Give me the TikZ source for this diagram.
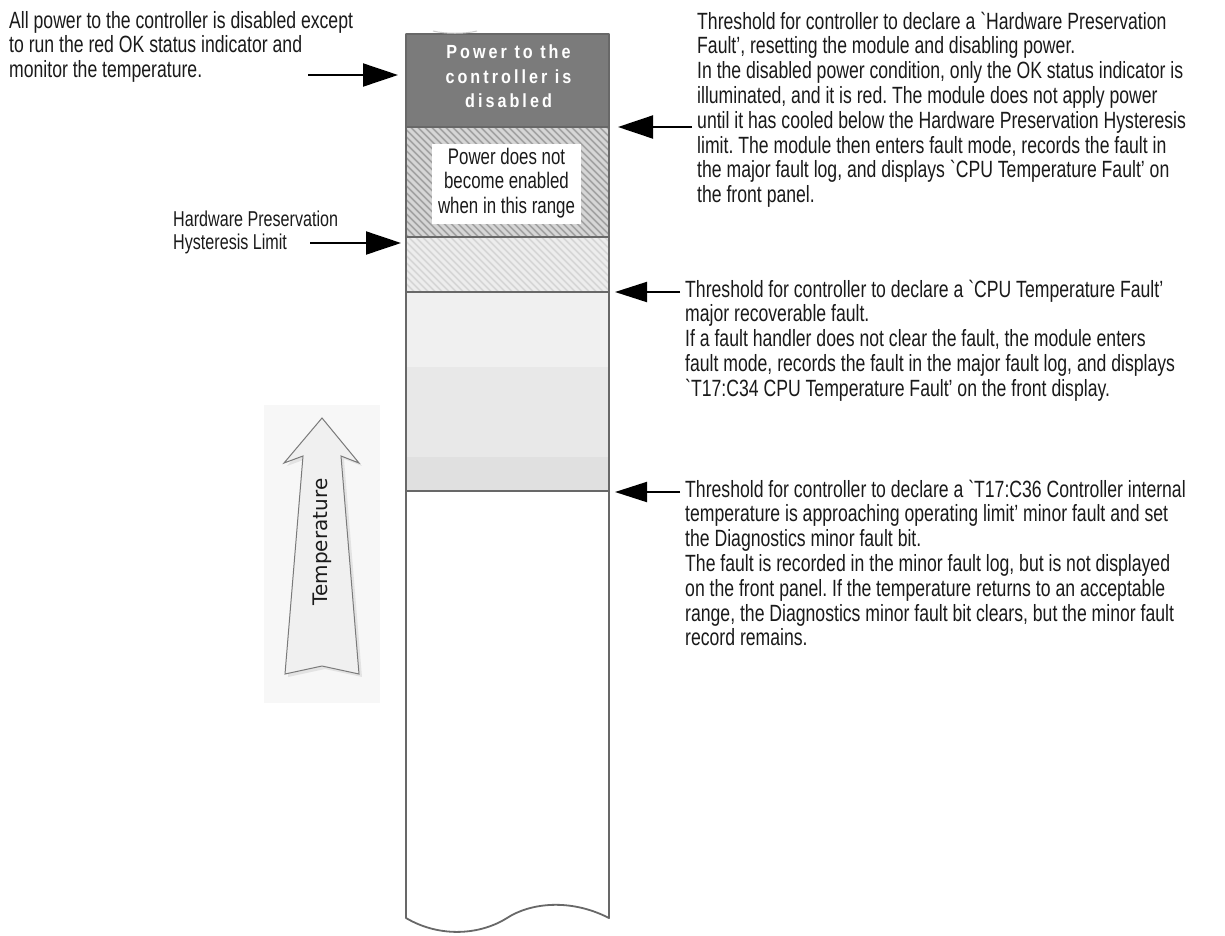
\documentclass[tikz,border=0pt]{standalone}
\usepackage{fontspec}
\newfontfamily\mainf{Liberation Sans}[FakeStretch=0.75]
\newfontfamily\boxf{Liberation Sans}[FakeStretch=0.85,LetterSpace=16]
\newfontfamily\tempf{DejaVu Sans}
\usetikzlibrary{arrows.meta}
\frenchspacing
\definecolor{txt}{HTML}{1A1A1A}
\definecolor{darkzone}{HTML}{7B7B7B}
\definecolor{hatchA}{HTML}{A2A2A2}
\definecolor{hatchB}{HTML}{D6D6D6}
\definecolor{hatchC}{HTML}{D6D6D6}
\definecolor{hatchD}{HTML}{EDEDED}
\definecolor{zoneA}{HTML}{F0F0F0}
\definecolor{zoneB}{HTML}{E8E8E8}
\definecolor{zoneC}{HTML}{E0E0E0}
\definecolor{edge}{HTML}{686868}
\definecolor{tempbg}{HTML}{F7F7F7}
\definecolor{tempfill}{HTML}{F0F0F0}
\definecolor{tempedge}{HTML}{7A7A7A}
\newcommand\tlines[1]{\begin{tabular}[t]{@{}l@{}}#1\end{tabular}}
\newcommand\clines[1]{\begin{tabular}[t]{@{}c@{}}#1\end{tabular}}
\tikzset{
  note/.style={anchor=base west, inner sep=0pt, text=txt, font=\mainf\fontsize{23.5}{24.8}\selectfont},
  smallnote/.style={anchor=base west, inner sep=0pt, text=txt, font=\mainf\fontsize{21.5}{23}\selectfont},
  boxnote/.style={anchor=base, inner sep=0pt, text=txt, font=\mainf\fontsize{22.5}{24.6}\selectfont},
  darknote/.style={anchor=base, inner sep=0pt, text=white, font=\boxf\bfseries\fontsize{19}{24.5}\selectfont},
  pointer/.style={line width=2pt, draw=black, -{Triangle[length=35pt,width=23pt]}},
  divider/.style={draw=edge, line width=1.8pt},
  stripe/.style={line width=3pt},
}
\begin{document}
\begin{tikzpicture}[x=1pt,y=-1pt]
\useasboundingbox (0,0) rectangle (1225,935);
\fill[white] (0,0) rectangle (1225,935);

% temperature panel
\fill[tempbg] (264,405) rectangle (380,703);
\fill[black, opacity=0.08] (325,421) -- (362,466) -- (344,459) -- (362,677) -- (325,669) -- (288,677) -- (306,459) -- (287,466) -- cycle;
\draw[tempedge, fill=tempfill, line width=1pt, line join=miter]
  (322,418) -- (359,463) -- (341,456) -- (359,674) -- (322,666) -- (285,674) -- (303,456) -- (284,463) -- cycle;
\node[rotate=90, inner sep=0pt, text=txt, font=\tempf\fontsize{20}{22}\selectfont] (temp) at (322,542) {Temperature};

% column body
\fill[white] (406,34) -- (406,918) .. controls (440,938) and (480,935) .. (507,918)
  .. controls (530,903) and (570,898) .. (609,918) -- (609,34) -- cycle;
\fill[darkzone] (406,34) rectangle (609,127);
\begin{scope}
  \clip (406,127) rectangle (609,237);
  \fill[hatchA] (406,127) rectangle (609,237);
  \foreach \k in {0,...,54} \draw[hatchB, stripe] (112+\k*7+127,127) -- (112+\k*7+237,237);
\end{scope}
\begin{scope}
  \clip (406,237) rectangle (609,292);
  \fill[hatchC] (406,237) rectangle (609,292);
  \foreach \k in {0,...,54} \draw[hatchD, stripe] (112+\k*7+237,237) -- (112+\k*7+292,292);
\end{scope}
\fill[zoneA] (406,292) rectangle (609,367);
\fill[zoneB] (406,367) rectangle (609,457);
\fill[zoneC] (406,457) rectangle (609,491);

\draw[divider] (406,127) -- (609,127);
\draw[divider] (406,237) -- (609,237);
\draw[divider] (406,292) -- (609,292);
\draw[divider] (406,491) -- (609,491);
\draw[edge, line width=1.8pt, line join=round] (609,34) -- (406,34) -- (406,918) .. controls (440,938) and (480,935) .. (507,918)
  .. controls (530,903) and (570,898) .. (609,918) -- cycle;
\draw[black!20, line width=1pt] (433,31) .. controls (445,34) and (465,34) .. (477,31);

% texts inside column
\node[darknote] (dark) at (508.5,58.5) {\clines{Power to the\\controller is\\disabled}};
\fill[white] (432,144) rectangle (581,224);
\node[boxnote] (range) at (506.5,164) {\clines{Power does not\\become enabled\\when in this range}};

% anchors on column edges
\coordinate (tipA) at (398,75);
\coordinate (tipB) at (401,243);
\coordinate (tipC) at (618,127);
\coordinate (tipD) at (615,292);
\coordinate (tipE) at (615,492);
\coordinate (tailA) at (308,75);
\coordinate (tailB) at (310,243);
\coordinate (tailC) at (692,127);
\coordinate (tailD) at (680,292);
\coordinate (tailE) at (680,492);

% left texts
\node[note] (allpower) at (9,28) {\tlines{All power to the controller is disabled except\\to run the red OK status indicator and\\monitor the temperature.}};
\node[smallnote] (hyst) at (173,226.5) {\tlines{Hardware Preservation\\Hysteresis Limit}};

% right texts
\node[note] (hwfault) at (697,29) {\tlines{Threshold for controller to declare a `Hardware Preservation\\Fault’, resetting the module and disabling power.\\In the disabled power condition, only the OK status indicator is\\illuminated, and it is red. The module does not apply power\\until it has cooled below the Hardware Preservation Hysteresis\\limit. The module then enters fault mode, records the fault in\\the major fault log, and displays `CPU Temperature Fault’ on\\the front panel.}};
\node[note] (cpufault) at (685,297) {\tlines{Threshold for controller to declare a `CPU Temperature Fault’\\major recoverable fault.\\If a fault handler does not clear the fault, the module enters\\fault mode, records the fault in the major fault log, and displays\\`T17:C34 CPU Temperature Fault’ on the front display.}};
\node[note] (minorfault) at (685,497) {\tlines{Threshold for controller to declare a `T17:C36 Controller internal\\temperature is approaching operating limit’ minor fault and set\\the Diagnostics minor fault bit.\\The fault is recorded in the minor fault log, but is not displayed\\on the front panel. If the temperature returns to an acceptable\\range, the Diagnostics minor fault bit clears, but the minor fault\\record remains.}};

% pointers
\draw[pointer] (tailA) -- (tipA);
\draw[pointer] (tailB) -- (tipB);
\draw[pointer] (tailC) -- (tipC);
\draw[pointer, -{Triangle[length=32pt,width=20pt]}] (tailD) -- (tipD);
\draw[pointer, -{Triangle[length=32pt,width=20pt]}] (tailE) -- (tipE);
\end{tikzpicture}
\end{document}
